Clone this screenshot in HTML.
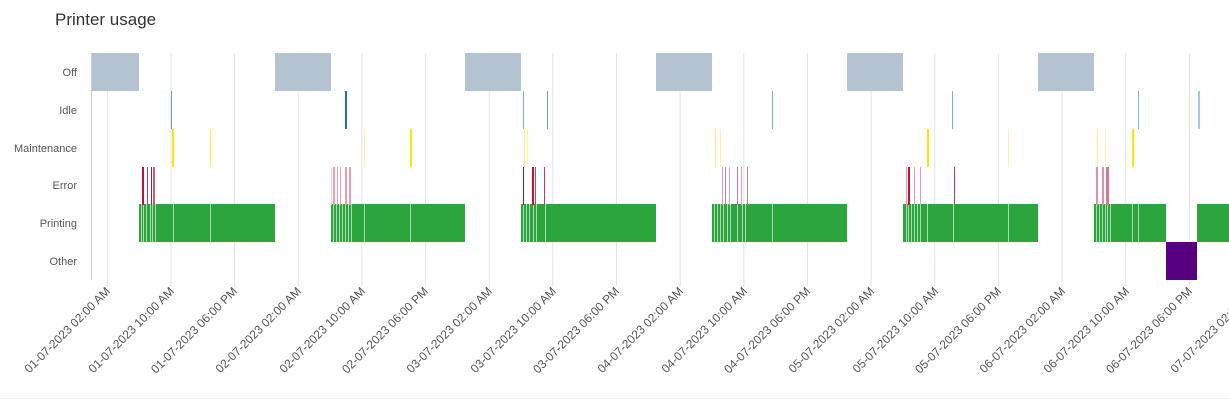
<!DOCTYPE html>
<html><head><meta charset="utf-8"><style>
body{margin:0;background:#fff;width:1229px;height:401px;overflow:hidden;font-family:"Liberation Sans",sans-serif}
</style></head><body>
<svg id="s" width="1229" height="401" xmlns="http://www.w3.org/2000/svg" style="position:absolute;left:0;top:0">
<text x="55" y="25" font-size="17" fill="#333">Printer usage</text>
<g font-size="11" fill="#555" text-anchor="end">
<text x="77" y="76">Off</text>
<text x="77" y="114">Idle</text>
<text x="77" y="152">Maintenance</text>
<text x="77" y="189">Error</text>
<text x="77" y="227">Printing</text>
<text x="77" y="265">Other</text>
</g>
<g id="grid"></g>
<g id="bars"></g>
<line x1="91.5" y1="53" x2="91.5" y2="280" stroke="#c8d0dc" stroke-width="1"/>
<line x1="0" y1="398.5" x2="1229" y2="398.5" stroke="#eee"/>
<g font-size="12" fill="#555" text-anchor="end">
<text transform="translate(111,292) rotate(-45)">01-07-2023 02:00 AM</text>
<text transform="translate(175,292) rotate(-45)">01-07-2023 10:00 AM</text>
<text transform="translate(238,292) rotate(-45)">01-07-2023 06:00 PM</text>
<text transform="translate(302,292) rotate(-45)">02-07-2023 02:00 AM</text>
<text transform="translate(366,292) rotate(-45)">02-07-2023 10:00 AM</text>
<text transform="translate(429,292) rotate(-45)">02-07-2023 06:00 PM</text>
<text transform="translate(493,292) rotate(-45)">03-07-2023 02:00 AM</text>
<text transform="translate(557,292) rotate(-45)">03-07-2023 10:00 AM</text>
<text transform="translate(620,292) rotate(-45)">03-07-2023 06:00 PM</text>
<text transform="translate(684,292) rotate(-45)">04-07-2023 02:00 AM</text>
<text transform="translate(748,292) rotate(-45)">04-07-2023 10:00 AM</text>
<text transform="translate(811,292) rotate(-45)">04-07-2023 06:00 PM</text>
<text transform="translate(875,292) rotate(-45)">05-07-2023 02:00 AM</text>
<text transform="translate(939,292) rotate(-45)">05-07-2023 10:00 AM</text>
<text transform="translate(1002,292) rotate(-45)">05-07-2023 06:00 PM</text>
<text transform="translate(1066,292) rotate(-45)">06-07-2023 02:00 AM</text>
<text transform="translate(1130,292) rotate(-45)">06-07-2023 10:00 AM</text>
<text transform="translate(1193,292) rotate(-45)">06-07-2023 06:00 PM</text>
<text transform="translate(1257,292) rotate(-45)">07-07-2023 02:00 AM</text>
</g>
</svg>
<script>
var NS="http://www.w3.org/2000/svg";
function el(p,t,a){var e=document.createElementNS(NS,t);for(var k in a)e.setAttribute(k,a[k]);document.getElementById(p).appendChild(e);return e;}
for(var i=0;i<18;i++){var x=107.3+63.65*i;el("grid","line",{x1:x,x2:x,y1:53,y2:286,stroke:"#e3e3e3","stroke-width":1});}
var R={off:53,idle:91,mt:129,err:167,pr:204,ot:242},H=38;
function r(row,x1,x2,c,op){el("bars","rect",{x:x1,y:R[row],width:x2-x1,height:H,fill:c,opacity:op||1});}
// off
[[91,139],[275,331],[465,521],[656,712],[847,903],[1038,1094]].forEach(function(a){r("off",a[0],a[1],"#b3c3d2");});
// printing
[[139,275],[331,465],[521,656],[712,847],[903,1038],[1094,1166],[1197,1229]].forEach(function(a){r("pr",a[0],a[1],"#2ca53d");});
r("ot",1166,1197,"#560080");
// white gaps in printing
[141,143,146,150,152,155,173,210,333,336,339,342,345,348,351,364,410,523,526,529,533,536,545,714,717,720,723,727,730,737,742,745,772,906,908,911,914,917,920,927,953,1008,1096,1099,1102,1105,1107,1110,1132,1138].forEach(function(x){r("pr",x,x+1,"#fff",0.6);});
// idle
[[171,"#5ba3d9",1],[345,"#1f6fb4",2],[523,"#6bb8e8",1],[547,"#6a9ccc",1],[772,"#6bb8e8",1],[952,"#6bb8e8",1],[1138,"#6bb8e8",1],[1198,"#9ccff0",2]].forEach(function(a){r("idle",a[0],a[0]+a[2],a[1]);});
// maintenance
[[172,"#ffe600",2],[210,"#ffee30",1],[364,"#fff59a",1],[410,"#ffe600",2],[524,"#fff280",1],[527,"#fff59a",1],[715,"#fff070",1],[720,"#fff59a",1],[927,"#ffe600",2],[1008,"#fff59a",1],[1097,"#fff280",1],[1105,"#fff59a",1],[1132,"#ffe600",2]].forEach(function(a){r("mt",a[0],a[0]+a[2],a[1]);});
// error
[[142,"#b5173a",2],[147,"#c43a5a",1],[151,"#b5173a",1],[153,"#cc5a72",2],[331,"#f2d0d8",1],[333,"#e8a0b0",2],[337,"#e8a0b0",1],[340,"#e8a0b0",1],[345,"#e8a0b0",2],[349,"#e8a0b0",2],[523,"#9c1030",1],[532,"#c8102e",2],[535,"#d04060",1],[544,"#c43a5a",1],[722,"#e8a0b0",1],[725,"#d87890",1],[729,"#e8a0b0",1],[737,"#d87890",1],[741,"#e8a0b0",1],[747,"#d87890",1],[906,"#e8a0b0",1],[908,"#c8102e",2],[914,"#e8a0b0",1],[920,"#e8a0b0",1],[954,"#d03050",1],[1096,"#e090a8",2],[1102,"#e090a8",2],[1106,"#d87890",3]].forEach(function(a){r("err",a[0],a[0]+a[2],a[1]);});
</script>
</body></html>
